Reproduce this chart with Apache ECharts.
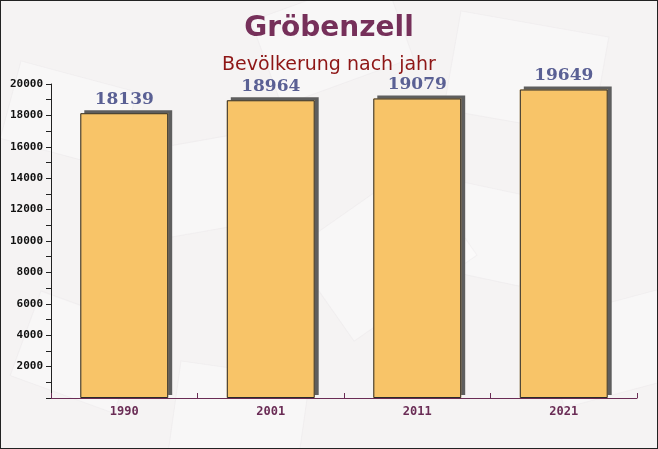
<!DOCTYPE html>
<html>
<head>
<meta charset="utf-8">
<script src="https://cdn.jsdelivr.net/npm/echarts@6/dist/echarts.min.js"></script>
<style>
  html, body { margin: 0; padding: 0; }
  #chart { width: 658px; height: 449px; box-sizing: border-box; border: 1px solid #222; background: #f5f3f3; }
</style>
</head>
<body>
<div id="chart"></div>
<script>
var years = ["1990", "2001", "2011", "2021"];
var population = [18139, 18964, 19079, 19649];
var yTicks = [2000, 4000, 6000, 8000, 10000, 12000, 14000, 16000, 18000, 20000];

var chart = echarts.init(document.getElementById("chart"));

// faint envelope shapes in the background
var envelopes = [
  [20, 60, 120, 80, -15], [250, 20, 140, 90, 20], [460, 10, 150, 100, -10],
  [140, 150, 120, 90, 10], [410, 170, 130, 90, -12], [290, 250, 150, 110, 35],
  [40, 290, 110, 90, -20], [540, 320, 120, 90, 15], [180, 360, 130, 90, -8]
].map(function (e) {
  return {
    type: "rect", silent: true, z: -10,
    x: e[0], y: e[1], rotation: e[4] * Math.PI / 180,
    shape: { x: 0, y: 0, width: e[2], height: e[3] },
    style: { fill: "rgba(255,255,255,0.35)", stroke: "rgba(230,226,228,0.35)" }
  };
});

var option = {
  animation: false,
  graphic: envelopes,
  title: [
    {
      text: "Gröbenzell",
      left: "center", top: 9,
      textStyle: { fontFamily: "DejaVu Sans", fontWeight: "bold", fontSize: 28, color: "#76305a" }
    },
    {
      text: "Bevölkerung nach jahr",
      left: "center", top: 50,
      textStyle: { fontFamily: "DejaVu Sans", fontWeight: "normal", fontSize: 19, color: "#8e1616" }
    }
  ],
  grid: { left: 50, right: 20, top: 83, bottom: 50 },
  xAxis: {
    type: "category",
    data: years,
    axisLine: { lineStyle: { color: "#6a2c55", width: 1 } },
    axisTick: { show: true, inside: true, length: 5, lineStyle: { color: "#6a2c55" } },
    axisLabel: {
      margin: 8,
      fontFamily: "DejaVu Sans Mono", fontWeight: "bold", fontSize: 12, color: "#6a2c55"
    }
  },
  yAxis: {
    type: "value",
    min: 0, max: 20000, interval: 2000,
    splitLine: { show: false },
    axisLine: { show: true, lineStyle: { color: "#222" } },
    axisTick: { show: true, length: 5, lineStyle: { color: "#222" } },
    minorTick: { show: true, splitNumber: 2, length: 5, lineStyle: { color: "#222" } },
    axisLabel: {
      margin: 8,
      fontFamily: "DejaVu Sans Mono", fontWeight: "bold", fontSize: 11, color: "#111",
      formatter: function (v) { return yTicks.indexOf(v) >= 0 ? String(v) : ""; }
    }
  },
  series: [
    {
      // filled bar with the offset dark shadow
      type: "bar",
      data: population,
      barWidth: "60%",
      z: 2,
      itemStyle: {
        color: "#f8c468",
        shadowColor: "#5e5e5e",
        shadowBlur: 0,
        shadowOffsetX: 4,
        shadowOffsetY: -3
      },
      label: {
        show: true,
        position: "top",
        distance: 5,
        fontFamily: "DejaVu Serif", fontWeight: "bold", fontSize: 17, color: "#5a6094"
      }
    },
    {
      // outline only, drawn over the filled bar
      type: "bar",
      data: population,
      barWidth: "60%",
      barGap: "-100%",
      z: 3,
      silent: true,
      itemStyle: { color: "rgba(0,0,0,0)", borderColor: "#2a2a2a", borderWidth: 1 }
    }
  ]
};
chart.setOption(option);
</script>
</body>
</html>
